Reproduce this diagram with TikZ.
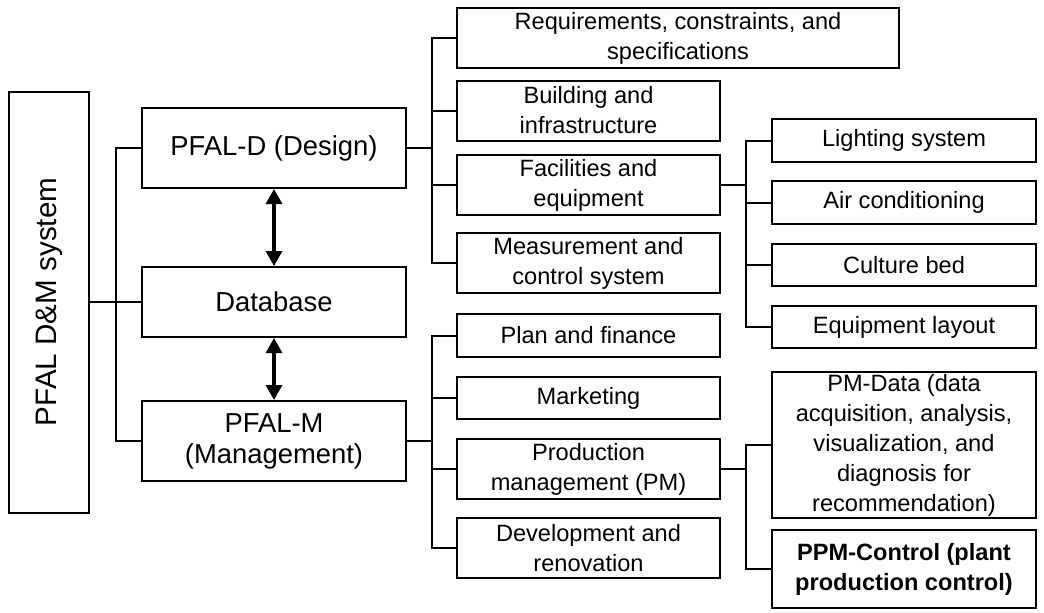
\documentclass[tikz,border=0pt]{standalone}
\usepackage{fontspec}
\setmainfont{Liberation Sans}
\usetikzlibrary{arrows.meta}
\begin{document}
\begin{tikzpicture}[x=0.5pt, y=-0.5pt,
    box/.style={draw, line width=1pt, align=center, inner sep=0pt, font=\fontsize{11.8}{15}\selectfont},
    mainbox/.style={box, minimum width=132pt, minimum height=40pt, font=\fontsize{13.7}{15.5}\selectfont},
    subbox/.style={box, minimum width=131.5pt, minimum height=30pt},
    leafbox/.style={box, minimum width=132pt, minimum height=21.5pt},
    link/.style={line width=1pt},
    dbarrow/.style={line width=1.6pt, {Triangle[width=8pt,length=7.5pt]}-{Triangle[width=8pt,length=7.5pt]}}]
        \useasboundingbox (0,0) rectangle (1044,612);
        % left and middle column
        \node[box, rotate=90, minimum width=210.5pt, minimum height=40pt, font=\fontsize{14.8}{17}\selectfont] (sys) at (49,302) {PFAL D\&M system};
        \node[mainbox] (des) at (274,148) {PFAL-D (Design)};
        \node[mainbox, minimum height=35pt] (db) at (274,302) {Database};
        \node[mainbox] (man) at (274,441) {PFAL-M\\(Management)};
        % design items
        \node[subbox, minimum width=221pt] (req) at (678,38) {Requirements, constraints, and\\specifications};
        \node[subbox] (bld) at (588.5,110.5) {Building and\\infrastructure};
        \node[subbox] (fac) at (588.5,185) {Facilities and\\equipment};
        \node[subbox] (mea) at (588.5,263) {Measurement and\\control system};
        % management items
        \node[subbox, minimum height=21.5pt] (pln) at (588.5,335.5) {Plan and finance};
        \node[subbox, minimum height=21pt] (mkt) at (588.5,398) {Marketing};
        \node[subbox] (prd) at (588.5,469) {Production\\management (PM)};
        \node[subbox] (dev) at (588.5,548) {Development and\\renovation};
        % facilities items
        \node[leafbox] (lgt) at (904,140.5) {Lighting system};
        \node[leafbox] (air) at (904,202.5) {Air conditioning};
        \node[leafbox, minimum height=21pt] (bed) at (904,265) {Culture bed};
        \node[leafbox, minimum height=21pt] (lay) at (904,327) {Equipment layout};
        % production items
        \node[leafbox, minimum height=73pt] (pmd) at (904,445) {PM-Data (data\\acquisition, analysis,\\visualization, and\\diagnosis for\\recommendation)};
        \node[leafbox, minimum height=39pt, font=\fontsize{11.8}{15}\selectfont\bfseries] (ppm) at (904,569) {PPM-Control (plant\\production control)};

        \coordinate (trunk) at (116,302);
        \coordinate (dsplit) at (432,148);
        \coordinate (msplit) at (432,441);
        \coordinate (fsplit) at (746,185);
        \coordinate (psplit) at (746,469);

        \draw[link] (sys.south) -- (db.west);
        \draw[link] (des.west) -| (trunk) |- (man.west);
        \draw[dbarrow] (des) -- (db);
        \draw[dbarrow] (db) -- (man);

        \draw[link] (des.east) -- (dsplit);
        \draw[link] (req.west) -| (dsplit) |- (mea.west);
        \draw[link] (bld.west) -- (bld.west -| dsplit);
        \draw[link] (fac.west) -- (fac.west -| dsplit);

        \draw[link] (man.east) -- (msplit);
        \draw[link] (pln.west) -| (msplit) |- (dev.west);
        \draw[link] (mkt.west) -- (mkt.west -| msplit);
        \draw[link] (prd.west) -- (prd.west -| msplit);

        \draw[link] (fac.east) -- (fsplit);
        \draw[link] (lgt.west) -| (fsplit) |- (lay.west);
        \draw[link] (air.west) -- (air.west -| fsplit);
        \draw[link] (bed.west) -- (bed.west -| fsplit);

        \draw[link] (prd.east) -- (psplit);
        \draw[link] (pmd.west) -| (psplit) |- (ppm.west);
\end{tikzpicture}
\end{document}
